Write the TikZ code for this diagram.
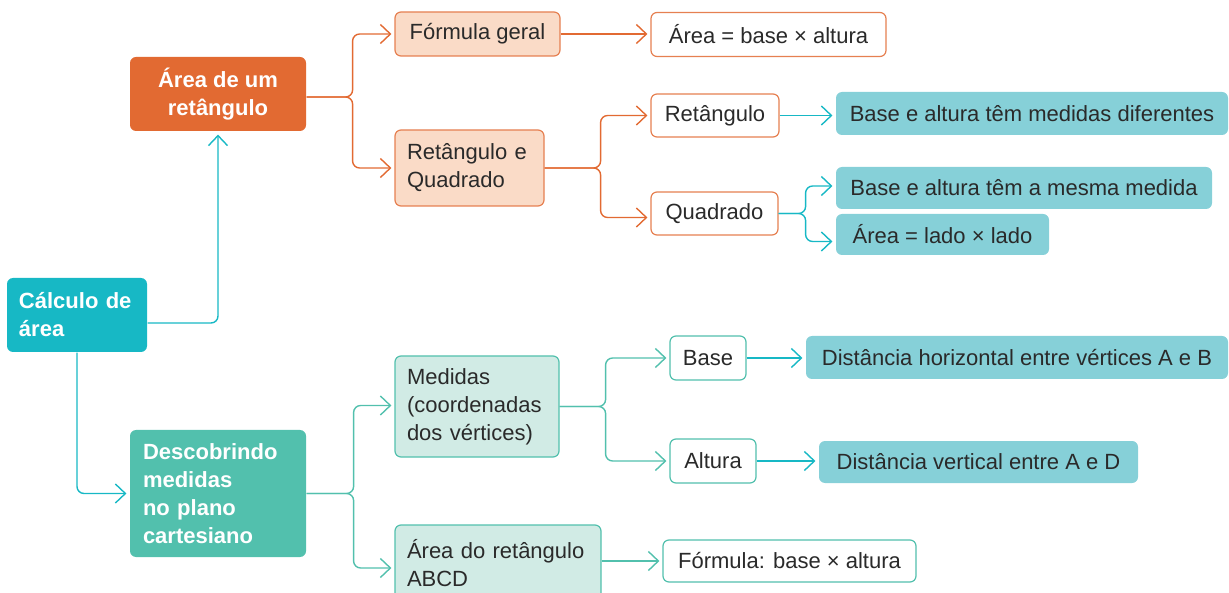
\documentclass[tikz,border=0pt]{standalone}
\usepackage{fontspec}
\setmainfont{Liberation Sans}
\usetikzlibrary{arrows.meta}
\definecolor{cyanD}{HTML}{17B8C5}
\definecolor{orng}{HTML}{E26A32}
\definecolor{mint}{HTML}{52C0AD}
\definecolor{peach}{HTML}{FADBC7}
\definecolor{mintL}{HTML}{D1EBE5}
\definecolor{cyanL}{HTML}{86D0D8}
\definecolor{txt}{HTML}{2A2A2A}
\begin{document}
\begin{tikzpicture}[x=1pt,y=-1pt,
  box/.style={rounded corners=6pt, inner sep=0pt, font=\fontsize{22}{28}\selectfont, text=txt, line width=1.2pt},
  wh/.style 2 args={minimum width=#1pt, minimum height=#2pt},
  tw/.style={text width=#1pt, align=left},
  mainbox/.style={box, text=white, font=\fontsize{22}{28}\selectfont\bfseries},
  orfill/.style={box, fill=peach, draw=orng!85},
  orwhite/.style={box, fill=white, draw=orng!85},
  mtfill/.style={box, fill=mintL, draw=mint},
  mtwhite/.style={box, fill=white, draw=mint},
  cyfill/.style={box, fill=cyanL},
  tip/.tip={Straight Barb[length=10pt,width=19pt,line width=1.4pt]},
  conn/.style={line width=1.4pt, rounded corners=7pt, -tip, shorten >=3pt},
  cconn/.style={conn, draw=cyanD},
  oconn/.style={conn, draw=orng},
  mconn/.style={conn, draw=mint}
]
\useasboundingbox (0,0) rectangle (1229,593);

% main nodes
\node[mainbox, fill=cyanD, wh={140}{74}, tw=116] (calc) at (77,315) {Cálculo de\\área};
\node[mainbox, fill=orng, wh={176}{74}, align=center] (area1) at (218,94) {Área de um\\retângulo};
\node[mainbox, fill=mint, wh={176}{127}, tw=150] (desc) at (218,493.5) {Descobrindo\\medidas\\no plano\\cartesiano};

% orange branch
\node[orfill, wh={165}{44}] (fg) at (477.5,34) {Fórmula geral};
\node[orfill, wh={149}{76}, tw=125] (rq) at (469.5,168) {Retângulo e\\Quadrado};
\node[orwhite, wh={235}{44}] (abx) at (768.5,34.5) {Área = base × altura};
\node[orwhite, wh={128}{43}] (ret) at (715,115.5) {Retângulo};
\node[orwhite, wh={127}{43}] (quad) at (714.5,213.5) {Quadrado};
\node[cyfill, wh={392}{43}] (bdif) at (1032,113.5) {Base e altura têm medidas diferentes};
\node[cyfill, wh={376}{42}] (bmes) at (1024,188) {Base e altura têm a mesma medida};
\node[cyfill, wh={213}{41}] (all) at (942.5,234.5) {Área = lado × lado};

% mint branch
\node[mtfill, wh={164}{101}, tw=140] (med) at (477,406.5) {Medidas\\(coordenadas\\dos vértices)};
\node[mtfill, wh={206}{76}, tw=182] (arq) at (498,563) {Área do retângulo\\ABCD};
\node[mtwhite, wh={76}{44}] (base) at (708,358) {Base};
\node[mtwhite, wh={86}{44}] (alt) at (713,461) {Altura};
\node[cyfill, wh={422}{43}] (dh) at (1017,357.5) {Distância horizontal entre vértices A e B};
\node[cyfill, wh={319}{42}] (dv) at (978.5,462) {Distância vertical entre A e D};
\node[mtwhite, wh={253}{42}] (form) at (789.5,561) {Fórmula: base × altura};

% connectors from root
\draw[cconn] ([yshift=-8pt]calc.east) -| (area1.south);
\draw[cconn] (calc.south) |- (desc.west);

% orange connectors
\draw[oconn] ([yshift=-3pt]area1.east) -- ++(46,0) |- (fg.west);
\draw[oconn] ([yshift=-3pt]area1.east) -- ++(46,0) |- (rq.west);
\draw[oconn] (fg.east) -- (fg.east -| abx.west);
\draw[oconn] (rq.east) -- ++(56,0) |- (ret.west);
\draw[oconn] (rq.east) -- ++(56,0) |- ([yshift=-4pt]quad.west);

% cyan leaves
\draw[cconn] (ret.east) -- (ret.east -| bdif.west);
\draw[cconn] (quad.east) -- ++(27,0) |- ([yshift=2pt]bmes.west);
\draw[cconn] (quad.east) -- ++(27,0) |- ([yshift=-7pt]all.west);
\draw[cconn] (base.east) -- (base.east -| dh.west);
\draw[cconn] (alt.east) -- (alt.east -| dv.west);

% mint connectors
\draw[mconn] (desc.east) -- ++(47,0) |- ([yshift=1pt]med.west);
\draw[mconn] (desc.east) -- ++(47,0) |- ([yshift=-5pt]arq.west);
\draw[mconn] (med.east) -- ++(46,0) |- (base.west);
\draw[mconn] (med.east) -- ++(46,0) |- (alt.west);
\draw[mconn] (arq.east |- form.west) -- (form.west);
\end{tikzpicture}
\end{document}
